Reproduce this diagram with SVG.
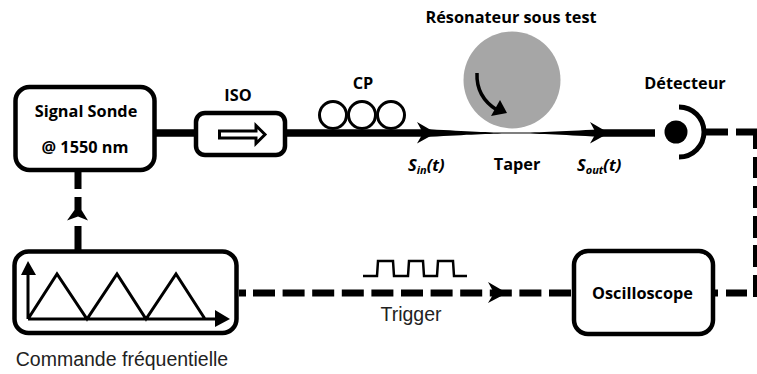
<svg xmlns="http://www.w3.org/2000/svg" width="757" height="374" viewBox="0 0 757 374">
<style>
.box{fill:#fff;stroke:#000;stroke-width:4.500}
.thin{fill:none;stroke:#000;stroke-width:3}
.fib{fill:none;stroke:#000;stroke-width:7.500}
.dash{fill:none;stroke:#000;stroke-width:7}
.b{font:bold 16.300px "Open Sans","Liberation Sans",sans-serif;fill:#000;text-anchor:middle}
.r{font:19.500px "Liberation Sans",Arial,sans-serif;fill:#222;text-anchor:middle}
.i{font:italic bold 16.500px "Open Sans","Liberation Sans",sans-serif;fill:#000}
.s{font-size:11px}
</style>
<g id="connectors">
<path class="fib" d="M155 133H196M285 133H430M595 133H655"/>
<path d="M430 129.200C470 131.500 490 132.600 513 132.600C535 132.600 560 131.500 600 129.200V136.800C560 134.500 535 133.400 513 133.400C490 133.400 470 134.500 430 136.800Z"/>
<path d="M417 122L436 133L417 143.500L423 133Z"/>
<path d="M590 122L609 133L590 143.500L596 133Z"/>
<path class="dash" d="M78 170V189M78 226V250"/>
<path d="M74.500 197H81.500V210L88 220.500L78 216.500L67 220.500L74.500 210Z"/>
<path class="dash" d="M239 293H246"/>
<path class="dash" stroke-dasharray="22 7.600" d="M253 293H573"/>
<path d="M488 282L507 293L488 303L494 293Z"/>
<path class="dash" d="M715 293H718M726 293H747"/>
<path class="dash" d="M706 132H728M736 132H757"/>
<path class="dash" style="stroke-width:4" d="M755 132V149M755 157V178M755 186V208M755 216V238M755 245V267M755 275V297"/>
</g>
<g id="signal-sonde"><rect class="box" x="15.500" y="87" width="139" height="83" rx="14"/>
<text class="b" x="86" y="117">Signal Sonde</text><text class="b" x="85" y="153">@ 1550 nm</text></g>
<g id="iso"><rect class="box" x="196" y="113" width="89" height="42" rx="9"/>
<path fill="#fff" stroke="#000" stroke-width="3" d="M219.500 131H256V125.500L265 134.500L256 143.500V138H219.500Z"/>
<text class="b" x="238" y="101">ISO</text></g>
<g id="cp"><circle class="thin" cx="333" cy="115" r="13.500"/><circle class="thin" cx="362" cy="115" r="13.500"/><circle class="thin" cx="391" cy="115" r="13.500"/>
<text class="b" x="363" y="89">CP</text></g>
<g id="resonateur"><circle cx="512" cy="80" r="48.500" fill="#a6a6a6"/>
<path fill="none" stroke="#000" stroke-width="3.500" d="M477 73Q476 97 497 110"/>
<path d="M507 113L491 116L500 100Z"/>
<text class="b" x="511" y="23">Résonateur sous test</text></g>
<g id="detecteur"><circle cx="676" cy="132" r="11.500"/>
<path fill="none" stroke="#000" stroke-width="5" d="M679 107A25 25 0 0 1 679 157"/>
<text class="b" x="685" y="89">Détecteur</text></g>
<g id="labels">
<text class="i" x="408" y="171">S<tspan class="s" dy="3">in</tspan><tspan dy="-3">(t)</tspan></text>
<text class="b" x="517" y="170">Taper</text>
<text class="i" x="577" y="171">S<tspan class="s" dy="3">out</tspan><tspan dy="-3">(t)</tspan></text>
</g>
<g id="commande"><rect class="box" x="14.500" y="251.500" width="222" height="81.500" rx="14"/>
<path class="thin" d="M28 319V270M28 319H218M28 319L57 274L87 319L117 274L146 319L176 274L205 319"/>
<path d="M21 275L28 261L36 275ZM215 310L230 319L215 327Z"/>
<text class="r" x="122" y="366">Commande fréquentielle</text></g>
<g id="trigger"><path fill="none" stroke="#000" stroke-width="2.500" d="M363 276H377L378 261H393L394 276H408L409 261H423L424 276H437L438 261H453L454 276H467"/>
<text class="r" x="411" y="321">Trigger</text></g>
<g id="oscilloscope"><rect class="box" x="574" y="251" width="139" height="83" rx="14"/>
<text class="b" x="642.500" y="299">Oscilloscope</text></g>
</svg>
